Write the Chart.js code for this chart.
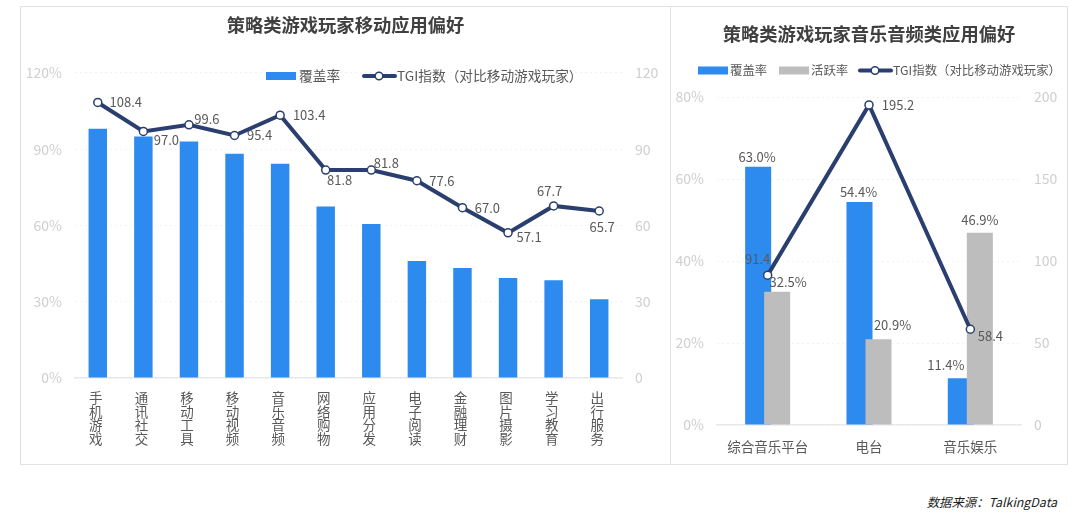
<!DOCTYPE html>
<html><head><meta charset="utf-8">
<script src="https://cdn.jsdelivr.net/npm/chart.js@4"></script>
<style>
html,body{margin:0;padding:0;background:#fff;width:1080px;height:518px;overflow:hidden;font-family:"Noto Sans CJK SC","Noto Sans",sans-serif}
.panel{position:absolute;box-sizing:border-box;border:1px solid #e2e2e2;background:#fff}
canvas{position:absolute;left:0;top:0}
#source{position:absolute;right:23px;top:493px;font-size:12.4px;font-style:italic;color:#222}
</style></head><body>
<div class="panel" style="left:20px;top:6px;width:651px;height:459px"><canvas id="left" width="649" height="457"></canvas></div>
<div class="panel" style="left:670px;top:6px;width:398px;height:459px"><canvas id="right" width="396" height="457"></canvas></div>
<div id="source">数据来源：TalkingData</div>
<script>
const appCategories=["手机游戏","通讯社交","移动工具","移动视频","音乐音频","网络购物","应用分发","电子阅读","金融理财","图片摄影","学习教育","出行服务"];
const appCoverage=[98.1,95,93,88.2,84.3,67.5,60.6,46,43.3,39.3,38.5,31];
const appTgi=[108.4,97.0,99.6,95.4,103.4,81.8,81.8,77.6,67.0,57.1,67.7,65.7];
const musicCategories=["综合音乐平台","电台","音乐娱乐"];
const musicCoverage=[63.0,54.4,11.4];
const musicActive=[32.5,20.9,46.9];
const musicTgi=[91.4,195.2,58.4];
const leftPercentTicks=[0,30,60,90,120];
const rightPercentTicks=[0,20,40,60,80];

const appTgiLabelShift=[[28,0],[23,9],[18,-6],[25,0],[29,0],[14,10],[15,-7],[25,0],[25,0],[21,4],[-4,-15],[3,16]];
const musicTgiLabelShift=[[-10,-16],[29,0],[20,7]];
const musicCoverageLabelShift=[[-1,-10],[-1,-10],[-15,-13]];
const musicActiveLabelShift=[[11,-10],[14,-14],[0,-13]];

const FONT='"Noto Sans CJK SC","Noto Sans",sans-serif';
const BLUE='#2d8bf0',GREY='#bdbdbd',NAVY='#2a3f6f',TXT='#595959',TICK='#cfcfcf';
Chart.defaults.font.family=FONT;
Chart.defaults.animation=false;
Chart.defaults.responsive=false;
Chart.defaults.devicePixelRatio=1;

const barOverlap={id:'barOverlap',afterDatasetsUpdate(chart){
  chart.data.datasets.forEach((ds,i)=>{ if(!ds.barShift)return;
    chart.getDatasetMeta(i).data.forEach(el=>{el.x+=ds.barShift;});
  });
}};
const valueLabels={id:'valueLabels',afterDatasetsDraw(chart){
  const c=chart.ctx;c.save();c.font='13px '+FONT;c.fillStyle=TXT;c.textAlign='center';c.textBaseline='middle';
  chart.data.datasets.forEach((ds,i)=>{ if(!ds.labelShift)return;
    chart.getDatasetMeta(i).data.forEach((el,k)=>{
      const s=ds.labelShift[k];
      c.fillText(ds.labelFormat(ds.data[k]),el.x+s[0],el.y+s[1]);
    });
  });c.restore();
}};
const keyLegend={id:'keyLegend',afterDraw(chart,args,opts){
  const c=chart.ctx;c.save();c.textBaseline='middle';c.textAlign='left';c.font=opts.size+'px '+FONT;
  opts.items.forEach(it=>{
    if(it.type==='bar'){c.fillStyle=it.color;c.fillRect(it.x,opts.y-4,30,8);}
    else{c.strokeStyle=it.color;c.lineWidth=4;c.lineCap='round';c.beginPath();c.moveTo(it.x+1,opts.y);c.lineTo(it.x+32,opts.y);c.stroke();
      c.fillStyle='#fff';c.lineWidth=1.5;c.beginPath();c.arc(it.x+16,opts.y,3.8,0,Math.PI*2);c.fill();c.stroke();}
    c.fillStyle=TXT;c.fillText(it.text,it.tx,opts.y);
  });c.restore();
}};
function scales(xPad,xFont,xLabelOffset,leftW,rightW,xH,pctTicks,pMax,rMax,rStep){
  return {
    x:{type:'category',offset:true,afterFit:s=>{s.height=xH},
      grid:{display:false},border:{display:true,color:'#e9e9e9',width:1.5},
      ticks:{color:TXT,font:xFont,padding:xPad,labelOffset:xLabelOffset,maxRotation:0,minRotation:0,autoSkip:false}},
    y:{position:'left',min:0,max:pMax,afterFit:s=>{s.width=leftW},
      afterBuildTicks:s=>{s.ticks=pctTicks.map(v=>({value:v}))},
      grid:{color:'#f3f3f3',drawTicks:false},border:{display:false,dash:[2,3]},
      ticks:{color:TICK,font:{size:14},padding:13,callback:v=>v+'%'}},
    y1:{position:'right',min:0,max:rMax,afterFit:s=>{s.width=rightW},
      grid:{display:false,drawTicks:false},border:{display:false},
      ticks:{color:TICK,font:{size:14},padding:13,stepSize:rStep}}
  };
}
const tgiStyle={type:'line',yAxisID:'y1',borderColor:NAVY,borderWidth:4,pointRadius:4,pointBorderWidth:1.5,pointBackgroundColor:'#fff',pointBorderColor:NAVY,tension:0,order:0,labelFormat:v=>v.toFixed(1)};
function title(text,top,bottom){return {display:true,text,color:'#404040',font:{size:18.3,weight:'bold',family:FONT,lineHeight:1.2},padding:{top,bottom},align:'center',position:'top'};}

new Chart(document.getElementById('left'),{
  type:'bar',
  plugins:[valueLabels,keyLegend],
  data:{labels:appCategories.map(s=>s.split('')),datasets:[
    {...tgiStyle,label:'TGI指数（对比移动游戏玩家）',data:appTgi,labelShift:appTgiLabelShift},
    {type:'bar',label:'覆盖率',data:appCoverage,yAxisID:'y',backgroundColor:BLUE,categoryPercentage:.405,barPercentage:1,order:1}
  ]},
  options:{
    plugins:{legend:{display:false},tooltip:{enabled:false},
      title:title('策略类游戏玩家移动应用偏好',7,37),
      keyLegend:{y:69,size:13.7,items:[
        {type:'bar',color:BLUE,x:245,text:'覆盖率',tx:278},
        {type:'line',color:NAVY,x:342,text:'TGI指数（对比移动游戏玩家）',tx:376}]}},
    scales:scales(5,{size:13.5,lineHeight:1.01},-2,54,48,86,leftPercentTicks,120,120,30)
  }
});
new Chart(document.getElementById('right'),{
  type:'bar',
  plugins:[barOverlap,valueLabels,keyLegend],
  data:{labels:musicCategories,datasets:[
    {...tgiStyle,label:'TGI指数（对比移动游戏玩家）',data:musicTgi,labelShift:musicTgiLabelShift},
    {type:'bar',label:'活跃率',data:musicActive,yAxisID:'y',backgroundColor:GREY,grouped:false,categoryPercentage:.257,barPercentage:1,barShift:9.5,order:1,labelShift:musicActiveLabelShift,labelFormat:v=>v.toFixed(1)+'%'},
    {type:'bar',label:'覆盖率',data:musicCoverage,yAxisID:'y',backgroundColor:BLUE,grouped:false,categoryPercentage:.257,barPercentage:1,barShift:-9.5,order:2,labelShift:musicCoverageLabelShift,labelFormat:v=>v.toFixed(1)+'%'}
  ]},
  options:{
    plugins:{legend:{display:false},tooltip:{enabled:false},
      title:title('策略类游戏玩家音乐音频类应用偏好',16,52.1),
      keyLegend:{y:63.5,size:12.4,items:[
        {type:'bar',color:BLUE,x:27,text:'覆盖率',tx:59},
        {type:'bar',color:GREY,x:108,text:'活跃率',tx:140},
        {type:'line',color:NAVY,x:188,text:'TGI指数（对比移动游戏玩家）',tx:222}]}},
    scales:scales(6,{size:13.5},0,46,46,39,rightPercentTicks,80,200,50)
  }
});
</script>
</body></html>
